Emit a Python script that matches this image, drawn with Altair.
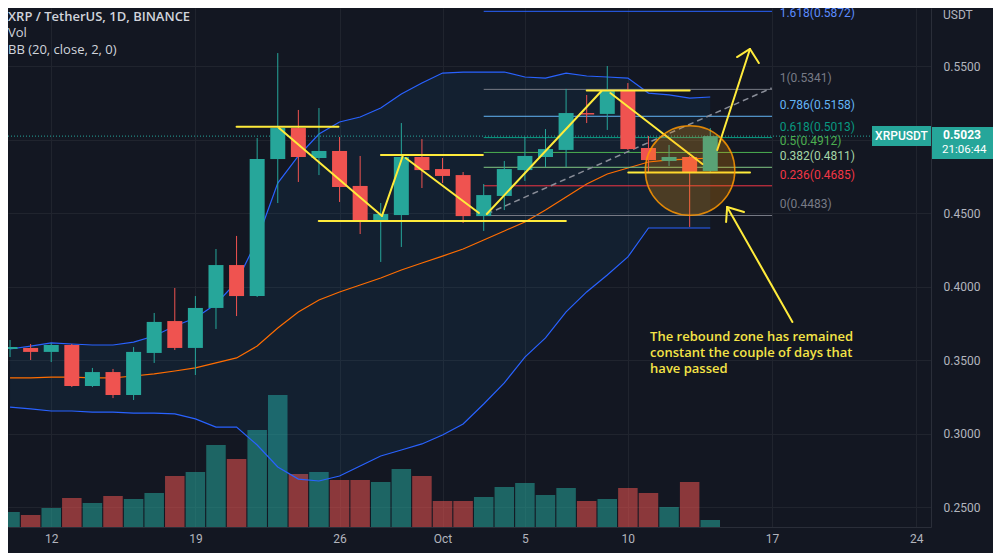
import altair as alt
import numpy as np
import pandas as pd

DAY_MS = 86400000
BASE_MS = int(pd.Timestamp("2022-09-10", tz="UTC").value // 10**6)

# ---------------- data (day offset from 2022-09-10) ----------------
candle_day = list(range(35))
open_p = [0.3575, 0.3582, 0.3555, 0.3602, 0.3323, 0.3418, 0.3262, 0.3548, 0.3765, 0.3582,
          0.3854, 0.4146, 0.3935, 0.4867, 0.5078, 0.4874, 0.4922, 0.4684, 0.4452, 0.4486,
          0.4881, 0.4799, 0.4758, 0.4479, 0.4616, 0.4792, 0.4881, 0.4929, 0.5180, 0.5174,
          0.5337, 0.4942, 0.4854, 0.4881, 0.4786]
high_p = [0.3636, 0.3609, 0.3616, 0.3609, 0.3446, 0.3439, 0.3588, 0.3820, 0.3990, 0.3935,
          0.4255, 0.4344, 0.5010, 0.5588, 0.5201, 0.5214, 0.5017, 0.4888, 0.4568, 0.5112,
          0.5003, 0.4874, 0.4779, 0.4697, 0.4854, 0.5017, 0.5071, 0.5344, 0.5303, 0.5500,
          0.5384, 0.5024, 0.4963, 0.4888, 0.5078]
low_p = [0.3520, 0.3500, 0.3486, 0.3316, 0.3316, 0.3241, 0.3228, 0.3480, 0.3568, 0.3398,
         0.3711, 0.3799, 0.3929, 0.4568, 0.4711, 0.4758, 0.4575, 0.4357, 0.4167, 0.4269,
         0.4670, 0.4704, 0.4432, 0.4378, 0.4520, 0.4718, 0.4813, 0.4813, 0.5112, 0.5065,
         0.4929, 0.4772, 0.4820, 0.4405, 0.4779]
close_p = [0.3589, 0.3555, 0.3602, 0.3323, 0.3418, 0.3262, 0.3555, 0.3759, 0.3582, 0.3854,
           0.4146, 0.3935, 0.4867, 0.5078, 0.4881, 0.4922, 0.4677, 0.4452, 0.4493, 0.4881,
           0.4792, 0.4752, 0.4479, 0.4622, 0.4799, 0.4888, 0.4935, 0.5180, 0.5170, 0.5330,
           0.4935, 0.4860, 0.4881, 0.4779, 0.5023]
volume_m = [180, 144, 228, 348, 288, 372, 336, 408, 612, 660,
            984, 816, 1164, 1584, 636, 660, 564, 564, 540, 696,
            612, 312, 312, 360, 480, 528, 384, 468, 312, 336,
            468, 408, 240, 540, 84]
bb_upper = [0.3575, 0.3595, 0.3616, 0.3609, 0.3602, 0.3602, 0.3622, 0.3663, 0.3731, 0.3786,
            0.3881, 0.4031, 0.4316, 0.4704, 0.4888, 0.5037, 0.5119, 0.5153, 0.5214, 0.5310,
            0.5384, 0.5452, 0.5459, 0.5459, 0.5459, 0.5425, 0.5418, 0.5452, 0.5432, 0.5425,
            0.5418, 0.5316, 0.5303, 0.5282, 0.5289]
bb_basis = [0.3378, 0.3378, 0.3384, 0.3384, 0.3378, 0.3378, 0.3391, 0.3405, 0.3425, 0.3446,
            0.3480, 0.3514, 0.3595, 0.3718, 0.3827, 0.3908, 0.3963, 0.4010, 0.4058, 0.4112,
            0.4160, 0.4207, 0.4255, 0.4316, 0.4378, 0.4439, 0.4520, 0.4609, 0.4697, 0.4765,
            0.4806, 0.4847, 0.4861, 0.4867, 0.4874]
bb_lower = [0.3180, 0.3167, 0.3153, 0.3153, 0.3146, 0.3146, 0.3139, 0.3139, 0.3133, 0.3099,
            0.3044, 0.3044, 0.2922, 0.2772, 0.2690, 0.2677, 0.2711, 0.2779, 0.2847, 0.2888,
            0.2929, 0.2990, 0.3065, 0.3201, 0.3344, 0.3520, 0.3650, 0.3827, 0.3963, 0.4078,
            0.4201, 0.4398, 0.4398, 0.4398, 0.4398]

fib_level = [1, 0.786, 0.618, 0.5, 0.382, 0.236, 0, 1.618]
fib_price = [0.5341, 0.5158, 0.5013, 0.4912, 0.4811, 0.4685, 0.4483, 0.5872]
fib_line_color = ["#787b86", "#64b5f6", "#089981", "#4caf50", "#81c784", "#f23645", "#787b86", "#2962ff"]
fib_text_color = ["#787b86", "#64b5f6", "#089981", "#4caf50", "#a5d6a7", "#f23645", "#787b86", "#5b8cff"]
fib_from_day, fib_to_day, fib_label_day = 23, 37, 37.37

# hand drawn yellow lines: (day, price) -> (day, price)
seg_d1 = [11.0, 13.06, 18.06, 18.01, 19.21, 14.99, 23.15, 28.0, 29.15, 30.02, 34.34, 35.93, 35.93, 37.99, 34.82, 34.82]
seg_p1 = [0.5087, 0.5078, 0.4480, 0.4895, 0.4874, 0.4446, 0.4493, 0.5333, 0.5316, 0.4776, 0.4929, 0.5616, 0.5616, 0.3759, 0.4541, 0.4541]
seg_d2 = [15.95, 18.06, 19.07, 22.96, 22.77, 26.99, 28.72, 33.0, 33.62, 35.93, 35.93, 35.30, 36.36, 34.82, 35.64, 34.77]
seg_p2 = [0.5087, 0.4480, 0.4888, 0.4895, 0.4500, 0.4446, 0.5330, 0.5333, 0.4833, 0.4776, 0.5616, 0.5561, 0.5520, 0.4541, 0.4507, 0.4439]

trend_d = [23.15, 36.98]
trend_p = [0.4493, 0.5350]

zone_day, zone_price = 33.02, 0.4789

note_lines = ["The rebound zone has remained", "\u00a0constant the couple of days that", "\u00a0have passed"]
note_day = 31.08
note_price = [0.3656, 0.3548, 0.3439]

last_price = 0.5023
countdown = "21:06:44"
symbol = "XRPUSDT"
legend_title = "XRP / TetherUS, 1D, BINANCE"
legend_lines = ["Vol", "BB (20, close, 2, 0)"]

x_tick_days = [2, 9, 16, 21, 25, 30, 37, 44]
y_ticks = [0.25, 0.30, 0.35, 0.40, 0.45, 0.50, 0.55]

# ---------------- styling ----------------
BG = "#131722"
GREEN = "#26a69a"
RED = "#ef5350"
YELLOW = "#ffeb3b"
ORANGE = "#ff9800"
TXT = "#b2b5be"
GRID = "#20242e"
W, H = 923, 519


def to_ms(days):
    return [BASE_MS + int(round(d * DAY_MS)) for d in days]


xscale = alt.Scale(type="utc", domain=[BASE_MS + int(0.144 * DAY_MS), BASE_MS + int(44.476 * DAY_MS)], nice=False)
yscale = alt.Scale(domain=[0.236395, 0.589456], nice=False, zero=False)

xaxis = alt.Axis(values=to_ms(x_tick_days), title=None, grid=True, gridColor=GRID, ticks=False, tickSize=0,
                 domainColor="#2a2e39", labelColor=TXT, labelFont="Roboto", labelFontSize=12,
                 labelPadding=6, labelOverlap=False, labelFlush=False,
                 labelExpr="utcdate(datum.value) == 1 ? utcFormat(datum.value, '%b') : utcFormat(datum.value, '%-d')")
yaxis = alt.Axis(orient="right", values=y_ticks, format=".4f", title=None, grid=True, gridColor=GRID,
                 ticks=False, tickSize=0, domainColor="#2a2e39", labelColor=TXT, labelFont="Roboto",
                 labelFontSize=12, labelPadding=12, labelAlign="left", labelOverlap=False, labelFlush=False)


def X(f):
    return alt.X(f, type="temporal", scale=xscale, axis=xaxis)


def Y(f):
    return alt.Y(f, type="quantitative", scale=yscale, axis=yaxis)


cdf = pd.DataFrame({"t": to_ms(candle_day), "open": open_p, "high": high_p, "low": low_p,
                    "close": close_p, "vol": volume_m, "up": bb_upper, "mid": bb_basis, "lo": bb_lower})
cdf["col"] = np.where(cdf["close"] >= cdf["open"], GREEN, RED)

fdf = pd.DataFrame({"level": fib_level, "price": fib_price, "lc": fib_line_color, "tc": fib_text_color})
fdf["label"] = ["{:g}({:.4f})".format(l, p) for l, p in zip(fib_level, fib_price)]
fdf["t1"] = to_ms([fib_from_day])[0]
fdf["t2"] = to_ms([fib_to_day])[0]
fdf["tl"] = to_ms([fib_label_day])[0]
fdf_in = fdf[fdf["level"] <= 1]
fdf_ext = fdf[fdf["level"] > 1]

sdf = pd.DataFrame({"t1": to_ms(seg_d1), "p1": seg_p1, "t2": to_ms(seg_d2), "p2": seg_p2})
tdf = pd.DataFrame({"t1": [to_ms(trend_d)[0]], "p1": [trend_p[0]], "t2": [to_ms(trend_d)[1]], "p2": [trend_p[1]]})
zdf = pd.DataFrame({"t": to_ms([zone_day]), "p": [zone_price]})
ndf = pd.DataFrame({"t": to_ms([note_day] * 3), "p": note_price, "txt": note_lines})
pdf = pd.DataFrame({"p": [last_price], "a": [f"{last_price:.4f}"], "b": [countdown], "s": [symbol]})

# volume (own scale)
volume = alt.Chart(cdf).mark_bar(size=19.5, opacity=0.55).encode(
    x=X("t"),
    y=alt.Y("vol:Q", scale=alt.Scale(domain=[0, 6228], nice=False), axis=None),
    color=alt.Color("col:N", scale=None),
)

bb_fill = alt.Chart(cdf).mark_area(color="#2196f3", opacity=0.07).encode(x=X("t"), y=Y("up"), y2=alt.Y2("lo"))
bb_up = alt.Chart(cdf).mark_line(color="#2962ff", strokeWidth=1.2).encode(x=X("t"), y=Y("up"))
bb_lo = alt.Chart(cdf).mark_line(color="#2962ff", strokeWidth=1.2).encode(x=X("t"), y=Y("lo"))
bb_mid = alt.Chart(cdf).mark_line(color="#ff6d00", strokeWidth=1.2).encode(x=X("t"), y=Y("mid"))

price_line = alt.Chart(pdf).mark_rule(color=GREEN, strokeDash=[1, 2], strokeWidth=1).encode(
    x=alt.value(0), x2=alt.value(W), y=Y("p"))

fib_lines = alt.Chart(fdf).mark_rule(strokeWidth=1).encode(
    x=X("t1"), x2=alt.X2("t2"), y=Y("price"), color=alt.Color("lc:N", scale=None))
fib_text = alt.Chart(fdf_in).mark_text(align="left", baseline="middle", dy=-11, fontSize=12, font="Roboto").encode(
    x=X("tl"), y=Y("price"), text="label:N", color=alt.Color("tc:N", scale=None))
fib_text_ext = alt.Chart(fdf_ext).mark_text(align="left", baseline="middle", dy=2, fontSize=12, font="Roboto").encode(
    x=X("tl"), y=Y("price"), text="label:N", color=alt.Color("tc:N", scale=None))

trend = alt.Chart(tdf).mark_rule(color="#8a8e99", strokeDash=[6, 4], strokeWidth=1.5).encode(
    x=X("t1"), y=Y("p1"), x2=alt.X2("t2"), y2=alt.Y2("p2"))

wicks = alt.Chart(cdf).mark_rule(strokeWidth=1).encode(
    x=X("t"), y=Y("low"), y2=alt.Y2("high"), color=alt.Color("col:N", scale=None))
bodies = alt.Chart(cdf).mark_bar(size=15).encode(
    x=X("t"), y=Y("open"), y2=alt.Y2("close"), color=alt.Color("col:N", scale=None))

segs = alt.Chart(sdf).mark_rule(color=YELLOW, strokeWidth=2, strokeCap="round").encode(
    x=X("t1"), y=Y("p1"), x2=alt.X2("t2"), y2=alt.Y2("p2"))

zone = alt.Chart(zdf).mark_point(shape="circle", size=8012, fill=ORANGE, fillOpacity=0.24,
                                 stroke=ORANGE, strokeWidth=1.5, strokeOpacity=0.85, opacity=1).encode(
    x=X("t"), y=Y("p"))

note = alt.Chart(ndf).mark_text(align="left", baseline="middle", color="#f5e447", fontSize=13,
                                font="Open Sans", fontWeight=600).encode(x=X("t"), y=Y("p"), text="txt:N")

sym_box = alt.Chart(pdf).mark_rect(color=GREEN, yOffset=-10, y2Offset=10).encode(
    x=alt.value(864), x2=alt.value(W), y=Y("p"), y2=alt.Y2("p"))
sym_txt = alt.Chart(pdf).mark_text(align="center", baseline="middle", color="white", fontSize=12,
                                   font="Roboto", fontWeight=500).encode(
    x=alt.value(893.5), y=Y("p"), text="s:N")
price_box = alt.Chart(pdf).mark_rect(color=GREEN, yOffset=-9, y2Offset=23).encode(
    x=alt.value(W + 1), x2=alt.value(W + 64), y=Y("p"), y2=alt.Y2("p"))
price_txt = alt.Chart(pdf).mark_text(align="left", baseline="middle", dy=-1, color="white", fontSize=12,
                                     font="Roboto", fontWeight="bold").encode(
    x=alt.value(W + 12), y=Y("p"), text="a:N")
count_txt = alt.Chart(pdf).mark_text(align="left", baseline="middle", dy=14, color="white", fontSize=11.5,
                                     font="Roboto").encode(
    x=alt.value(W + 11), y=Y("p"), text="b:N")

usdt = alt.Chart(pd.DataFrame({"u": ["USDT"]})).mark_text(
    align="left", baseline="middle", color=TXT, fontSize=12, font="Roboto").encode(
    x=alt.value(W + 12), y=alt.value(7), text="u:N")

leg_title = alt.Chart(pd.DataFrame({"txt": [legend_title]})).mark_text(
    align="left", baseline="middle", color="#d1d4dc", fontSize=13, font="Open Sans", fontWeight=600).encode(
    x=alt.value(0), y=alt.value(9), text="txt:N")
leg_vol = alt.Chart(pd.DataFrame({"txt": [legend_lines[0]]})).mark_text(
    align="left", baseline="middle", color="#d1d4dc", fontSize=13, font="Open Sans").encode(
    x=alt.value(0), y=alt.value(25), text="txt:N")
leg_bb = alt.Chart(pd.DataFrame({"txt": [legend_lines[1]]})).mark_text(
    align="left", baseline="middle", color="#d1d4dc", fontSize=13, font="Open Sans").encode(
    x=alt.value(0), y=alt.value(42), text="txt:N")

price_layer = alt.layer(
    bb_fill, bb_up, bb_lo, bb_mid, price_line, fib_lines, fib_text, fib_text_ext, trend,
    wicks, bodies, segs, zone, note, sym_box, sym_txt, price_box, price_txt, count_txt,
    usdt, leg_title, leg_vol, leg_bb,
)

chart = alt.layer(volume, price_layer).resolve_scale(y="independent").properties(
    width=W, height=H,
    autosize=alt.AutoSizeParams(type="none"),
    padding={"left": 0, "top": 0, "right": 62, "bottom": 26},
    background=BG,
).configure_view(stroke=None)

chart.save("out.html", embed_options={"renderer": "svg", "actions": False})
